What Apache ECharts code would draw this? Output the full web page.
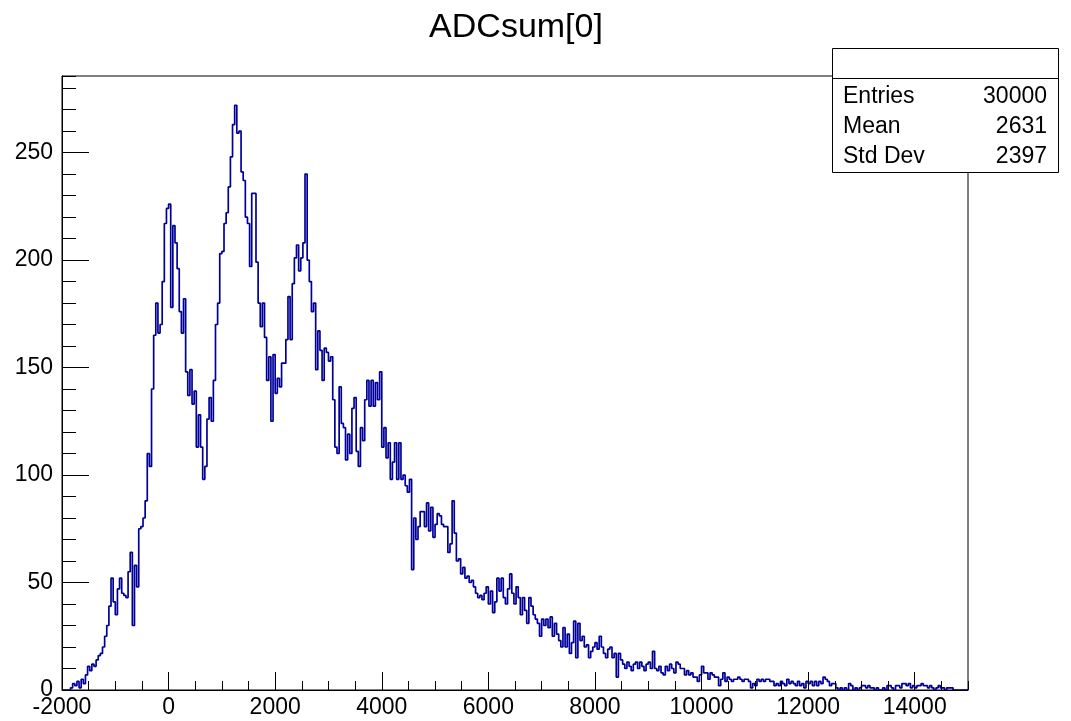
<!DOCTYPE html>
<html>
<head>
<meta charset="utf-8">
<title>ADCsum[0]</title>
<script src="https://cdn.jsdelivr.net/npm/echarts@6/dist/echarts.min.js"></script>
<style>
  html, body { margin: 0; padding: 0; background: #ffffff; }
  #chart { width: 1071px; height: 721px; }
</style>
</head>
<body>
<div id="chart"></div>
<script>
// Histogram binning: 425 bins of width 40 from -2000 to 15000
const binStart = -2000;
const binWidth = 40;

// Bin contents, one array per 1000-wide stretch of ADC sum
const cntM2000 = [0, 0, 0, 0, 1, 3, 2, 4, 1, 5, 3, 7, 11, 9, 12, 11, 14, 16, 17, 20, 25, 30, 39, 52, 41];
const cntM1000 = [35, 47, 52, 45, 44, 43, 55, 64, 30, 58, 48, 75, 76, 80, 88, 110, 104, 140, 165, 180, 166, 170, 190, 217, 224];
const cnt0     = [226, 178, 216, 208, 196, 176, 166, 182, 148, 137, 149, 133, 139, 113, 128, 113, 98, 104, 126, 136, 125, 144, 170, 180, 203];
const cnt1000  = [204, 217, 222, 234, 248, 263, 272, 259, 260, 241, 237, 220, 217, 197, 231, 231, 199, 180, 169, 180, 164, 144, 155, 125, 156];
const cnt2000  = [138, 145, 141, 152, 152, 163, 183, 163, 189, 201, 207, 195, 201, 208, 240, 200, 190, 176, 180, 149, 167, 158, 144, 159, 157];
const cnt3000  = [153, 155, 135, 113, 110, 141, 124, 122, 107, 119, 110, 131, 136, 111, 104, 122, 116, 135, 144, 132, 144, 132, 143, 135, 148];
const cnt4000  = [113, 122, 108, 115, 98, 106, 115, 98, 115, 98, 100, 95, 92, 98, 56, 80, 70, 76, 83, 83, 76, 87, 74, 85, 71];
const cnt5000  = [77, 82, 81, 77, 76, 76, 64, 68, 88, 73, 60, 61, 54, 57, 52, 53, 50, 51, 48, 45, 43, 44, 42, 45, 48];
const cnt6000  = [40, 46, 36, 41, 52, 46, 52, 43, 40, 47, 54, 45, 40, 48, 43, 35, 43, 37, 31, 43, 39, 35, 33, 31, 25];
const cnt7000  = [33, 30, 33, 29, 34, 25, 31, 26, 23, 20, 29, 20, 26, 17, 22, 32, 15, 31, 23, 25, 20, 21, 15, 18, 20];
const cnt8000  = [22, 19, 25, 20, 17, 15, 19, 20, 15, 17, 6, 17, 14, 12, 10, 13, 11, 9, 12, 13, 10, 13, 11, 9, 12];
const cnt9000  = [13, 10, 18, 10, 9, 11, 8, 7, 11, 9, 12, 10, 8, 13, 12, 10, 10, 7, 9, 7, 8, 6, 6, 4, 7];
const cnt10000 = [11, 8, 8, 5, 8, 7, 6, 6, 2, 5, 8, 4, 6, 5, 4, 5, 5, 6, 5, 4, 5, 5, 4, 1, 3];
const cnt11000 = [2, 5, 4, 5, 4, 5, 5, 4, 4, 2, 3, 2, 4, 3, 2, 5, 3, 4, 3, 2, 4, 2, 3, 1, 4];
const cnt12000 = [3, 4, 2, 4, 2, 4, 3, 6, 5, 4, 2, 3, 3, 1, 0, 1, 0, 1, 0, 3, 2, 0, 1, 0, 1];
const cnt13000 = [2, 2, 1, 2, 1, 1, 0, 1, 0, 0, 1, 0, 2, 2, 1, 0, 2, 2, 1, 3, 3, 2, 3, 1, 2];
const cnt14000 = [1, 2, 2, 3, 2, 2, 1, 2, 1, 0, 1, 2, 1, 1, 0, 1, 1, 1, 0, 0, 0, 0, 0, 0, 0];

// Statistics box contents
const histTitle = 'ADCsum[0]';
const statNames = ['Entries', 'Mean', 'Std Dev'];
const statValues = ['30000', '2631', '2397'];

const counts = [].concat(cntM2000, cntM1000, cnt0, cnt1000, cnt2000, cnt3000, cnt4000,
  cnt5000, cnt6000, cnt7000, cnt8000, cnt9000, cnt10000, cnt11000, cnt12000, cnt13000, cnt14000);

// Outline points at each bin's lower edge; stepped so every bin is a flat top
const points = counts.map((c, i) => [binStart + i * binWidth, c]);
points.push([binStart + counts.length * binWidth, 0]);

const xMin = binStart;
const xMax = binStart + counts.length * binWidth;
const yMax = Math.max.apply(null, counts) * 1.05;

const FONT = 'Liberation Sans, Helvetica, Arial, sans-serif';
const BLACK = '#000000';

const chart = echarts.init(document.getElementById('chart'), null, { renderer: 'canvas' });

const statGraphics = [];
statGraphics.push({
  type: 'rect', z: 100,
  shape: { x: 832.5, y: 48.5, width: 226, height: 124 },
  style: { fill: '#ffffff', stroke: BLACK, lineWidth: 1 }
});
statGraphics.push({
  type: 'line', z: 101,
  shape: { x1: 832.5, y1: 78.5, x2: 1058.5, y2: 78.5 },
  style: { stroke: BLACK, lineWidth: 1 }
});
statNames.forEach((name, i) => {
  statGraphics.push({
    type: 'text', z: 102, x: 843, y: 97 + i * 30,
    style: { text: name, font: '23px ' + FONT, fill: BLACK, textAlign: 'left', textVerticalAlign: 'middle' }
  });
  statGraphics.push({
    type: 'text', z: 102, x: 1047, y: 97 + i * 30,
    style: { text: statValues[i], font: '23px ' + FONT, fill: BLACK, textAlign: 'right', textVerticalAlign: 'middle' }
  });
});

const option = {
  animation: false,
  backgroundColor: '#ffffff',
  grid: {
    left: 62, right: 103, top: 76, bottom: 31,
    show: true, borderColor: BLACK, borderWidth: 1, backgroundColor: 'transparent'
  },
  xAxis: [
    {
      type: 'value', min: xMin, max: xMax, interval: 2000, position: 'bottom', z: 5,
      axisLine: { show: true, onZero: false, lineStyle: { color: BLACK, width: 1 } },
      axisTick: { show: true, inside: true, length: 18, lineStyle: { color: BLACK, width: 1 } },
      axisLabel: {
        show: true, margin: 6, fontSize: 23, fontFamily: FONT, color: BLACK,
        showMaxLabel: false, formatter: v => String(v)
      },
      splitLine: { show: false }
    },
    {
      type: 'value', min: xMin, max: xMax, interval: 500, position: 'bottom', z: 5,
      axisLine: { show: false, onZero: false },
      axisTick: { show: true, inside: true, length: 9, lineStyle: { color: BLACK, width: 1 } },
      axisLabel: { show: false },
      splitLine: { show: false }
    }
  ],
  yAxis: [
    {
      type: 'value', min: 0, max: yMax, interval: 50, position: 'left', z: 5,
      axisLine: { show: true, onZero: false, lineStyle: { color: BLACK, width: 1 } },
      axisTick: { show: true, inside: true, length: 27, lineStyle: { color: BLACK, width: 1 } },
      axisLabel: {
        show: true, margin: 9, fontSize: 23, fontFamily: FONT, color: BLACK,
        showMaxLabel: false, formatter: v => String(v)
      },
      splitLine: { show: false }
    },
    {
      type: 'value', min: 0, max: yMax, interval: 10, position: 'left', z: 5,
      axisLine: { show: false, onZero: false },
      axisTick: { show: true, inside: true, length: 14, lineStyle: { color: BLACK, width: 1 } },
      axisLabel: { show: false },
      splitLine: { show: false }
    }
  ],
  series: [
    {
      type: 'line', name: histTitle, xAxisIndex: 0, yAxisIndex: 0,
      step: 'end', data: points, symbol: 'none', showSymbol: false,
      lineStyle: { color: '#000099', width: 1.7 }, z: 3, clip: true
    }
  ],
  graphic: [
    {
      type: 'text', z: 100, x: 516, y: 28,
      style: { text: histTitle, font: '34px ' + FONT, fill: BLACK, textAlign: 'center', textVerticalAlign: 'middle' }
    }
  ].concat(statGraphics)
};

chart.setOption(option);
</script>
</body>
</html>
